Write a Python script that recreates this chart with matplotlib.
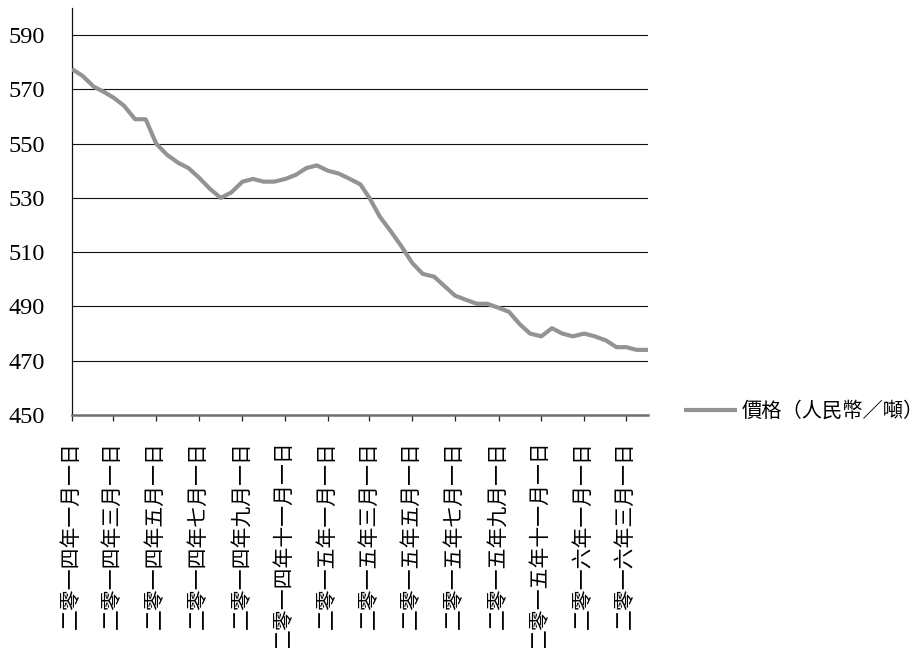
import matplotlib
matplotlib.use("Agg")
import matplotlib.pyplot as plt
from datetime import date

# Semi-monthly price observations (RMB per tonne)
dates = [
    "2014-01-01", "2014-01-16", "2014-02-01", "2014-02-16", "2014-03-01", "2014-03-16",
    "2014-04-01", "2014-04-16", "2014-05-01", "2014-05-16", "2014-06-01", "2014-06-16",
    "2014-07-01", "2014-07-16", "2014-08-01", "2014-08-16", "2014-09-01", "2014-09-16",
    "2014-10-01", "2014-10-16", "2014-11-01", "2014-11-16", "2014-12-01", "2014-12-16",
    "2015-01-01", "2015-01-16", "2015-02-01", "2015-02-16", "2015-03-01", "2015-03-16",
    "2015-04-01", "2015-04-16", "2015-05-01", "2015-05-16", "2015-06-01", "2015-06-16",
    "2015-07-01", "2015-07-16", "2015-08-01", "2015-08-16", "2015-09-01", "2015-09-16",
    "2015-10-01", "2015-10-16", "2015-11-01", "2015-11-16", "2015-12-01", "2015-12-16",
    "2016-01-01", "2016-01-16", "2016-02-01", "2016-02-16", "2016-03-01", "2016-03-16",
    "2016-04-01",
]
prices = [
    577.5, 575, 571, 569, 567, 564,
    559, 559, 550, 546, 543, 541,
    537.5, 533.5, 530, 532, 536, 537,
    536, 536, 537, 538.5, 541, 542,
    540, 539, 537, 535, 530, 523,
    517.5, 512, 506, 502, 501, 497.5,
    494, 492.5, 491, 491, 489.5, 488,
    483.5, 480, 479, 482, 480, 479,
    480, 479, 477.5, 475, 475, 474,
    474,
]
series_name = "價格（人民幣／噸）"

tick_dates = [
    "2014-01-01", "2014-03-01", "2014-05-01", "2014-07-01", "2014-09-01", "2014-11-01",
    "2015-01-01", "2015-03-01", "2015-05-01", "2015-07-01", "2015-09-01", "2015-11-01",
    "2016-01-01", "2016-03-01",
]
tick_labels = [
    "二零一四年一月一日", "二零一四年三月一日", "二零一四年五月一日", "二零一四年七月一日",
    "二零一四年九月一日", "二零一四年十一月一日", "二零一五年一月一日", "二零一五年三月一日",
    "二零一五年五月一日", "二零一五年七月一日", "二零一五年九月一日", "二零一五年十一月一日",
    "二零一六年一月一日", "二零一六年三月一日",
]
y_ticks = [450, 470, 490, 510, 530, 550, 570, 590]

plt.rcParams["font.family"] = ["Liberation Serif", "Noto Sans CJK TC", "DejaVu Sans"]

to_date = lambda s: date.fromisoformat(s)
x = [to_date(d) for d in dates]
xt = [to_date(d) for d in tick_dates]

fig = plt.figure(figsize=(9.23, 6.48), dpi=100)
ax = fig.add_axes([72 / 923, 1 - 415 / 648, (648 - 72) / 923, (415 - 8) / 648])

# horizontal gridlines above the baseline
for yv in y_ticks[1:]:
    ax.axhline(yv, color="#111111", lw=0.8, zorder=1)

line, = ax.plot(x, prices, color="#939393", lw=3.0, solid_joinstyle="round",
                solid_capstyle="butt", zorder=3, label=series_name)

ax.set_xlim(to_date("2014-01-01"), to_date("2016-04-01"))
ax.set_ylim(450, 600)
ax.set_yticks(y_ticks)
ax.set_yticklabels([str(v) for v in y_ticks], fontsize=17.5)
ax.tick_params(axis="y", length=0, pad=19.5)

ax.set_xticks(xt)
ax.set_xticklabels(tick_labels, rotation=90, ha="center", va="top", fontsize=15)
ax.tick_params(axis="x", direction="out", length=4.5, width=0.9, color="#222222", pad=14)

for s in ["top", "right"]:
    ax.spines[s].set_visible(False)
ax.spines["left"].set_color("#111111")
ax.spines["left"].set_linewidth(0.9)
ax.spines["bottom"].set_color("#6f6f6f")
ax.spines["bottom"].set_linewidth(1.8)

leg = fig.legend(handles=[line], loc="center left", bbox_to_anchor=(684 / 923, 1 - 412 / 648),
                 frameon=False, fontsize=14.6, handlelength=2.6, handletextpad=0.25,
                 borderpad=0, borderaxespad=0)

fig.savefig("out.png", dpi=100)
